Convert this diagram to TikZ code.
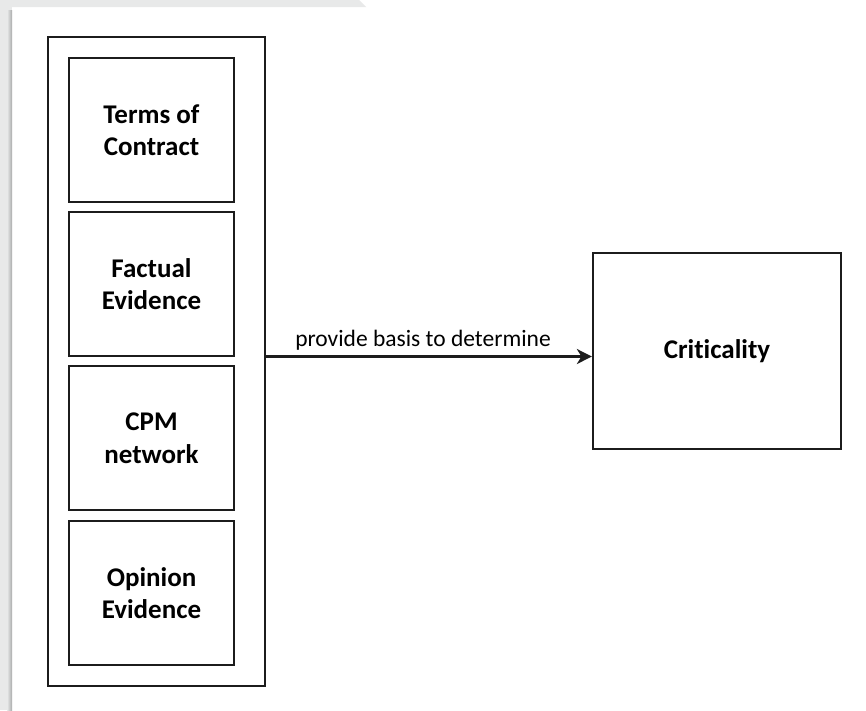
\documentclass[tikz,border=0pt]{standalone}
\usepackage{fontspec}
\setmainfont{Carlito}[Ligatures=NoCommon]
\usetikzlibrary{arrows.meta}
\definecolor{pagegrey}{HTML}{E8E9E9}
\definecolor{edgegrey}{HTML}{A9ABAB}
\definecolor{ink}{HTML}{1C1C1C}
\begin{document}
\begin{tikzpicture}[x=1pt,y=-1pt,
  frame/.style={draw=ink,line width=2.2pt,inner sep=0pt},
  item/.style={frame,minimum width=165pt,minimum height=144pt,align=center,
    font=\fontsize{27}{32.5}\selectfont\bfseries},
  connector/.style={draw=ink,line width=2.2pt,
    -{Stealth[length=15pt,width=15pt,inset=4.5pt]}},
  lbl/.style={font=\fontsize{23.5}{28}\selectfont,inner sep=0pt}]
\useasboundingbox (0,0) rectangle (866,710);
\fill[white] (0,0) rectangle (866,710);
% page border and drop shadow of the sheet
\fill[pagegrey] (0,0) -- (359,0) -- (366,7) -- (0,7) -- cycle;
\fill[pagegrey] (0,0) rectangle (12,710);
\shade[left color=pagegrey,right color=edgegrey] (7,10) rectangle (12,710);

% grouped inputs
\node[frame,minimum width=217pt,minimum height=649pt] (group) at (156.5,361.5) {};
\node[item] (terms)   at (151.5,130) {Terms of\\Contract};
\node[item] (fact)    at (151.5,284) {Factual\\Evidence};
\node[item] (cpm)     at (151.5,438) {CPM\\network};
\node[item] (opinion) at (151.5,593) {Opinion\\Evidence};

% outcome
\node[item,minimum width=248pt,minimum height=196pt] (crit) at (717,351) {Criticality};

% relation
\coordinate (row) at (0,356.5);
\draw[connector] (group.east |- row) -- (crit.west |- row);
\node[lbl,anchor=base] (rel) at (423,346) {provide basis to determine};
\end{tikzpicture}
\end{document}
